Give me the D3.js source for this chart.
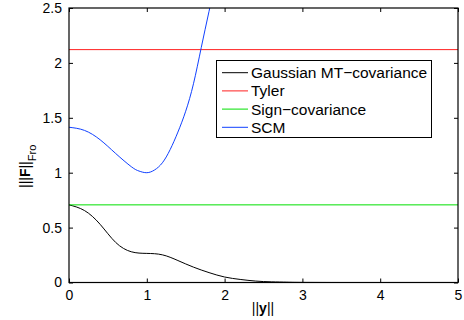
<!DOCTYPE html>
<html>
<head>
<meta charset="utf-8">
<script src="https://cdn.jsdelivr.net/npm/d3@7"></script>
<style>
  body { margin: 0; background: #fff; }
  text { font-family: "Liberation Sans", Arial, sans-serif; }
</style>
</head>
<body>
<div id="chart"></div>
<script>
// values
var xTicks = [0, 1, 2, 3, 4, 5];
var yTicks = [0, 0.5, 1, 1.5, 2, 2.5];

var gaussX = [0, 0.2, 0.4, 0.6, 0.8, 1.0, 1.2, 1.4, 1.6, 1.8, 2.0, 2.2, 2.4, 2.6, 2.8, 3.0, 3.5, 4, 5];
var gaussY = [0.707, 0.655, 0.53, 0.365, 0.28, 0.265, 0.252, 0.20, 0.14, 0.09, 0.05, 0.028, 0.013, 0.006, 0.003, 0.001, 0, 0, 0];

var tylerX = [0, 5];
var tylerY = [2.121, 2.121];

var signX = [0, 5];
var signY = [0.707, 0.707];

var scmX = [0, 0.2, 0.4, 0.6, 0.8, 0.9, 1.0, 1.1, 1.2, 1.3, 1.4, 1.5, 1.6, 1.7, 1.8, 1.9];
var scmY = [1.414, 1.385, 1.30, 1.175, 1.055, 1.015, 1.0, 1.025, 1.09, 1.21, 1.37, 1.56, 1.81, 2.14, 2.47, 2.8];

var names = ["Gaussian MT\u2212covariance", "Tyler", "Sign\u2212covariance", "SCM"];
var colors = ["#000000", "#ff2020", "#00e000", "#1040ff"];

var series = [[gaussX, gaussY], [tylerX, tylerY], [signX, signY], [scmX, scmY]].map(function(s, i) {
  return { name: names[i], color: colors[i], pts: s[0].map(function(x, j) { return [x, s[1][j]]; }) };
});

var width = 464, height = 320;
var svg = d3.select("#chart").append("svg")
    .attr("width", width)
    .attr("height", height);

var x = d3.scaleLinear().domain([0, 5]).range([69, 458]);
var y = d3.scaleLinear().domain([0, 2.5]).range([282.5, 8]);

svg.append("defs").append("clipPath").attr("id", "clip")
  .append("rect")
    .attr("x", x(0)).attr("y", y(2.5))
    .attr("width", x(5) - x(0)).attr("height", y(0) - y(2.5));

var line = d3.line()
    .x(function(d) { return x(d[0]); })
    .y(function(d) { return y(d[1]); })
    .curve(d3.curveNatural);

// curves
svg.append("g").attr("clip-path", "url(#clip)")
  .selectAll("path")
  .data(series)
  .enter().append("path")
    .attr("d", function(d) { return line(d.pts); })
    .attr("fill", "none")
    .attr("stroke", function(d) { return d.color; })
    .attr("stroke-width", 1);

// axes, ticks pointing inward like matlab
var tl = 4;
var axB = d3.axisBottom(x).tickValues(xTicks).tickSizeInner(-tl).tickSizeOuter(0).tickPadding(8).tickFormat(d3.format("d"));
var axT = d3.axisTop(x).tickValues(xTicks).tickSizeInner(-tl).tickSizeOuter(0).tickFormat("");
var axL = d3.axisLeft(y).tickValues(yTicks).tickSizeInner(-tl).tickSizeOuter(0).tickPadding(7).tickFormat(function(d) { return String(d); });
var axR = d3.axisRight(y).tickValues(yTicks).tickSizeInner(-tl).tickSizeOuter(0).tickFormat("");

function styleAxis(g) {
  g.select(".domain").remove();
  g.selectAll("line").attr("stroke", "#000");
  g.selectAll("text").attr("fill", "#000").style("font-size", "14px");
}

svg.append("g").attr("transform", "translate(0," + y(0) + ")").call(axB).call(styleAxis);
svg.append("g").attr("transform", "translate(0," + y(2.5) + ")").call(axT).call(styleAxis);
svg.append("g").attr("transform", "translate(" + x(0) + ",0)").call(axL).call(styleAxis);
svg.append("g").attr("transform", "translate(" + x(5) + ",0)").call(axR).call(styleAxis);

svg.append("rect")
    .attr("x", x(0)).attr("y", y(2.5))
    .attr("width", x(5) - x(0)).attr("height", y(0) - y(2.5))
    .attr("fill", "none")
    .attr("stroke", "#000")
    .attr("stroke-width", 1.2);

// axis labels
var xl = svg.append("text")
    .attr("x", 263).attr("y", 313)
    .attr("text-anchor", "middle")
    .style("font-size", "14px");
xl.append("tspan").text("||");
xl.append("tspan").attr("font-weight", "bold").text("y");
xl.append("tspan").text("||");

var yl = svg.append("text")
    .attr("transform", "translate(30,188) rotate(-90)")
    .attr("text-anchor", "start")
    .style("font-size", "14px");
yl.append("tspan").text("|||");
yl.append("tspan").attr("font-weight", "bold").text("F");
yl.append("tspan").text("||");
yl.append("tspan").attr("dy", 6).style("font-size", "11px").text("Fro");

// legend
var lg = svg.append("g").attr("transform", "translate(216,60)");
lg.append("rect")
    .attr("x", 0.5).attr("y", 0.5)
    .attr("width", 215).attr("height", 77)
    .attr("fill", "#fff")
    .attr("stroke", "#000");

var item = lg.selectAll("g.item")
  .data(series)
  .enter().append("g")
    .attr("class", "item")
    .attr("transform", function(d, i) { return "translate(0," + (12.7 + i * 18.2) + ")"; });

item.append("line")
    .attr("x1", 6).attr("x2", 32)
    .attr("stroke", function(d) { return d.color; });

item.append("text")
    .attr("x", 35).attr("y", 5.5)
    .style("font-size", "15.5px")
    .text(function(d) { return d.name; });
</script>
</body>
</html>
